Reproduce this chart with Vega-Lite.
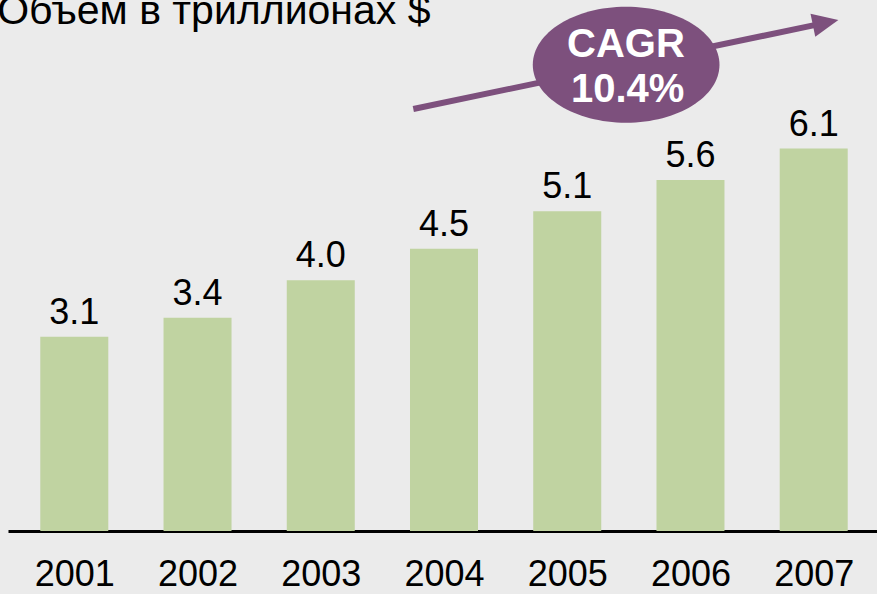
{
  "$schema": "https://vega.github.io/schema/vega-lite/v6.json",
  "width": 869,
  "height": 491,
  "autosize": {"type": "none"},
  "padding": {"left": 8, "top": 40, "right": 0, "bottom": 63},
  "background": "#ebebeb",
  "config": {"view": {"stroke": null}, "font": "Liberation Sans"},
  "datasets": {
    "bars": [
      {"year": 2001, "value": 3.1},
      {"year": 2002, "value": 3.4},
      {"year": 2003, "value": 4.0},
      {"year": 2004, "value": 4.5},
      {"year": 2005, "value": 5.1},
      {"year": 2006, "value": 5.6},
      {"year": 2007, "value": 6.1}
    ],
    "arrow": [
      {"year": 2003.751, "value": 6.73},
      {"year": 2007.016, "value": 8.073}
    ],
    "head": [
      {"year": 2007.2, "value": 8.15}
    ],
    "badge": [
      {"year": 2005.478, "value": 7.437}
    ],
    "cagr": [
      {"label": "CAGR", "year": 2005.476, "value": 7.56},
      {"label": "10.4%", "year": 2005.49, "value": 6.842}
    ],
    "heading": [
      {"label": "Объем в триллионах $", "year": 2000.374, "value": 8.086}
    ]
  },
  "layer": [
    {
      "data": {"name": "bars"},
      "mark": {"type": "bar", "width": 68, "color": "#c0d3a1"},
      "encoding": {
        "x": {
          "field": "year",
          "type": "quantitative",
          "scale": {"domain": [2000.5027, 2007.473], "nice": false, "zero": false},
          "axis": {
            "values": [2001, 2002, 2003, 2004, 2005, 2006, 2007],
            "format": "d",
            "title": null,
            "grid": false,
            "ticks": false,
            "tickSize": 0,
            "domainColor": "#000000",
            "domainWidth": 3,
            "labelFontSize": 36,
            "labelFont": "Liberation Sans",
            "labelColor": "#000000",
            "labelPadding": 54,
            "labelBaseline": "alphabetic",
            "labelFlush": false,
            "labelOverlap": false
          }
        },
        "y": {
          "field": "value",
          "type": "quantitative",
          "scale": {"domain": [0, 7.831], "nice": false, "zero": true},
          "axis": null
        }
      }
    },
    {
      "data": {"name": "bars"},
      "mark": {"type": "text", "baseline": "alphabetic", "align": "center", "dy": -13, "fontSize": 36, "font": "Liberation Sans", "color": "#000000"},
      "encoding": {
        "x": {"field": "year", "type": "quantitative"},
        "y": {"field": "value", "type": "quantitative"},
        "text": {"field": "value", "type": "quantitative", "format": ".1f"}
      }
    },
    {
      "data": {"name": "heading"},
      "mark": {"type": "text", "baseline": "alphabetic", "align": "left", "fontSize": 41, "font": "Liberation Sans", "color": "#000000"},
      "encoding": {
        "x": {"field": "year", "type": "quantitative"},
        "y": {"field": "value", "type": "quantitative"},
        "text": {"field": "label", "type": "nominal"}
      }
    },
    {
      "data": {"name": "arrow"},
      "mark": {"type": "line", "color": "#7d507d", "strokeWidth": 6, "strokeCap": "butt"},
      "encoding": {
        "x": {"field": "year", "type": "quantitative"},
        "y": {"field": "value", "type": "quantitative"}
      }
    },
    {
      "data": {"name": "head"},
      "mark": {"type": "point", "shape": "M0,0L-2,-0.9L-2,0.9Z", "filled": true, "opacity": 1, "color": "#7d507d", "size": 676, "angle": -11.7, "strokeWidth": 0},
      "encoding": {
        "x": {"field": "year", "type": "quantitative"},
        "y": {"field": "value", "type": "quantitative"}
      }
    },
    {
      "data": {"name": "badge"},
      "mark": {"type": "point", "shape": "M-1,0C-1,-0.343,-0.552,-0.621,0,-0.621C0.552,-0.621,1,-0.343,1,0C1,0.343,0.552,0.621,0,0.621C-0.552,0.621,-1,0.343,-1,0Z", "filled": true, "opacity": 1, "color": "#7d507d", "size": 34857, "strokeWidth": 0},
      "encoding": {
        "x": {"field": "year", "type": "quantitative"},
        "y": {"field": "value", "type": "quantitative"}
      }
    },
    {
      "data": {"name": "cagr"},
      "mark": {"type": "text", "baseline": "alphabetic", "align": "center", "fontSize": 40, "fontWeight": "bold", "font": "Liberation Sans", "color": "#ffffff"},
      "encoding": {
        "x": {"field": "year", "type": "quantitative"},
        "y": {"field": "value", "type": "quantitative"},
        "text": {"field": "label", "type": "nominal"}
      }
    }
  ]
}
